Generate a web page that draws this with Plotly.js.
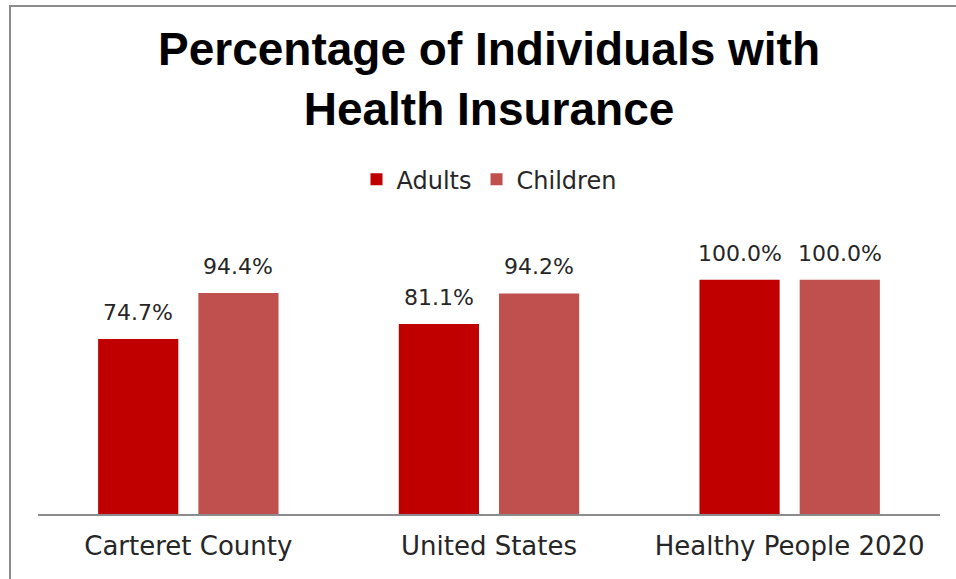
<!DOCTYPE html>
<html>
<head>
<meta charset="utf-8">
<script src="https://cdn.plot.ly/plotly-3.0.1.min.js"></script>
<style>
  body { margin: 0; background: #fff; }
  #frame { position: absolute; left: 9px; top: 5px; width: 960px; height: 590px;
           border-left: 2px solid #8c8c8c; border-top: 2px solid #8c8c8c; }
  #plot { position: absolute; left: 0; top: 0; width: 956px; height: 579px; }
</style>
</head>
<body>
<div id="frame"></div>
<div id="plot"></div>
<script>
let places = ['Carteret County', 'United States', 'Healthy People 2020'];
let adults = [74.7, 81.1, 100.0];
let children = [94.4, 94.2, 100.0];

let labelFont = { family: 'DejaVu Sans', size: 22, color: '#262626' };

let adultTrace = {
    x: places,
    y: adults,
    hoverinfo: 'none',
    name: 'Adults',
    type: 'bar',
    marker: { color: '#C00000' }
};

let childTrace = {
    x: places,
    y: children,
    hoverinfo: 'none',
    name: 'Children',
    type: 'bar',
    marker: { color: '#C0504D' }
};

// value labels above each bar
function valueLabels(values, shift) {
    return values.map((v, i) => ({
        x: places[i],
        y: v,
        xref: 'x',
        yref: 'y',
        text: v.toFixed(1) + '%',
        showarrow: false,
        xshift: shift,
        yshift: 12,
        yanchor: 'bottom',
        font: labelFont
    }));
}

let layout = {
    width: 956,
    height: 579,
    paper_bgcolor: 'rgba(0,0,0,0)',
    plot_bgcolor: 'rgba(0,0,0,0)',
    title: {
        text: 'Percentage of Individuals with<br>Health Insurance',
        font: { family: 'Liberation Sans', size: 46, color: '#000', weight: 'bold' },
        x: 0.5, xref: 'paper', xanchor: 'center',
        y: 0.888, yref: 'container', yanchor: 'top'
    },
    barmode: 'group',
    bargap: 0.3333,
    bargroupgap: 0.2,
    showlegend: true,
    legend: {
        orientation: 'h',
        x: 0.5, xanchor: 'center',
        y: 1.19, yanchor: 'middle',
        font: { family: 'DejaVu Sans', size: 24, color: '#262626' },
        itemwidth: 30,
        traceorder: 'normal'
    },
    annotations: valueLabels(adults, -50).concat(valueLabels(children, 50)),
    xaxis: {
        showline: true,
        linecolor: '#8c8c8c',
        linewidth: 2,
        ticks: '',
        ticklabelstandoff: 8,
        tickfont: { family: 'DejaVu Sans', size: 26, color: '#262626' },
        fixedrange: true
    },
    yaxis: {
        range: [0, 120],
        visible: false,
        showgrid: false,
        zeroline: false,
        fixedrange: true
    },
    margin: { l: 38, r: 16, t: 233, b: 65, pad: 0 }
};

Plotly.newPlot('plot', [adultTrace, childTrace], layout, { displayModeBar: false, staticPlot: true });
</script>
</body>
</html>
